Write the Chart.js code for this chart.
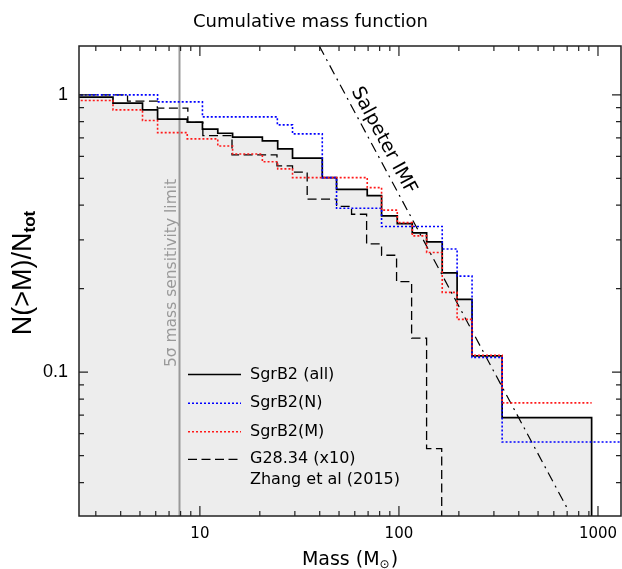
<!DOCTYPE html>
<html>
<head>
<meta charset="utf-8">
<script src="https://cdn.jsdelivr.net/npm/chart.js@4.4.1/dist/chart.umd.min.js"></script>
<style>
  html, body { margin: 0; padding: 0; background: #fff; }
</style>
</head>
<body>
<canvas id="cmf" width="622" height="569"></canvas>
<script>
// axis ranges: mass in Msun, cumulative fraction N(>M)/Ntot
const massRange = [2.47, 1305];
const fracRange = [0.0303, 1.5];
const xMajor = [10, 100, 1000];
const xMinor = [3, 4, 5, 6, 7, 8, 9, 20, 30, 40, 50, 60, 70, 80, 90, 200, 300, 400, 500, 600, 700, 800, 900];
const yMajor = [0.1, 1];
const yMinor = [0.04, 0.05, 0.06, 0.07, 0.08, 0.09, 0.2, 0.3, 0.4, 0.5, 0.6, 0.7, 0.8, 0.9];

// each point starts a new step (level holds until the next mass)
const allMass = [2, 3.66, 5.15, 6.13, 8.64, 10.3, 12.3, 14.6, 20.6, 24.6, 29.2, 41.2, 48.6, 69.3, 81.8, 98.1, 116.7, 137.8, 165, 196, 233, 330, 929];
const allFrac = [0.981, 0.933, 0.883, 0.817, 0.797, 0.752, 0.727, 0.704, 0.682, 0.638, 0.591, 0.503, 0.456, 0.433, 0.366, 0.343, 0.318, 0.295, 0.228, 0.183, 0.1145, 0.0686, 0.01];

const nMass = [2, 6.13, 10.3, 24.5, 29.2, 41.2, 48.6, 81.8, 165, 196, 233, 330, 2000];
const nFrac = [1.0, 0.943, 0.833, 0.779, 0.723, 0.503, 0.390, 0.335, 0.278, 0.222, 0.113, 0.056, 0.056];

const mMass = [2, 3.66, 5.15, 6.13, 8.64, 12.3, 14.6, 20.6, 24.6, 29.2, 69.3, 81.8, 98.1, 116.7, 137.8, 165, 196, 233, 330, 929];
const mFrac = [0.954, 0.883, 0.808, 0.731, 0.694, 0.654, 0.612, 0.574, 0.541, 0.503, 0.463, 0.384, 0.346, 0.31, 0.270, 0.194, 0.155, 0.1151, 0.0775, 0.0775];

// G28.34, masses x10 (Zhang et al 2015)
const gMass = [2, 4.33, 6.11, 8.70, 10.35, 14.5, 24.4, 29.2, 34.6, 48.6, 57.8, 68.8, 81.8, 97.3, 115.8, 137.7, 164];
const gFrac = [1.0, 0.949, 0.895, 0.796, 0.713, 0.607, 0.554, 0.526, 0.421, 0.396, 0.371, 0.290, 0.264, 0.212, 0.1327, 0.053, 0.01];

// Salpeter IMF line, end points
const salpMass = [39.8, 709];
const salpFrac = [1.5, 0.0318];

// 5 sigma mass sensitivity limit
const limitMass = 7.9;

const legendLabels = ['SgrB2 (all)', 'SgrB2(N)', 'SgrB2(M)', 'G28.34 (x10)'];

const pts = (m, f) => m.map((v, i) => ({ x: v, y: f[i] }));
const hershey = 'DejaVu Sans';

const decor = {
  id: 'decor',
  afterDatasetsDraw(chart) {
    const { ctx, chartArea: a } = chart;
    const xs = chart.scales.x, ys = chart.scales.y;
    ctx.save();
    // frame
    ctx.strokeStyle = '#222';
    ctx.lineWidth = 1.5;
    ctx.strokeRect(a.left, a.top, a.right - a.left, a.bottom - a.top);
    // inward ticks on all four sides
    ctx.lineWidth = 1.2;
    ctx.beginPath();
    const xt = (vals, len) => vals.forEach(v => {
      const px = xs.getPixelForValue(v);
      ctx.moveTo(px, a.bottom); ctx.lineTo(px, a.bottom - len);
      ctx.moveTo(px, a.top); ctx.lineTo(px, a.top + len);
    });
    const yt = (vals, len) => vals.forEach(v => {
      const py = ys.getPixelForValue(v);
      ctx.moveTo(a.left, py); ctx.lineTo(a.left + len, py);
      ctx.moveTo(a.right, py); ctx.lineTo(a.right - len, py);
    });
    xt(xMajor, 10); xt(xMinor, 5);
    yt(yMajor, 9); yt(yMinor, 5);
    ctx.stroke();

    // sensitivity limit label
    const lx = xs.getPixelForValue(limitMass);
    ctx.save();
    ctx.translate(lx - 8, (a.top + a.bottom) / 2 - 8);
    ctx.rotate(-Math.PI / 2);
    ctx.fillStyle = '#999';
    ctx.font = '15.5px ' + hershey;
    ctx.textAlign = 'center';
    ctx.textBaseline = 'middle';
    ctx.fillText('5\u03c3 mass sensitivity limit', 0, 0);
    ctx.restore();

    // Salpeter label along the line
    const p0 = { x: xs.getPixelForValue(salpMass[0]), y: ys.getPixelForValue(salpFrac[0]) };
    const p1 = { x: xs.getPixelForValue(salpMass[1]), y: ys.getPixelForValue(salpFrac[1]) };
    const ang = Math.atan2(p1.y - p0.y, p1.x - p0.x);
    const t = 0.216;
    ctx.save();
    ctx.translate(p0.x + (p1.x - p0.x) * t, p0.y + (p1.y - p0.y) * t);
    ctx.rotate(ang);
    ctx.fillStyle = '#000';
    ctx.font = '19px ' + hershey;
    ctx.textAlign = 'center';
    ctx.textBaseline = 'alphabetic';
    ctx.fillText('Salpeter IMF', 0, -7);
    ctx.restore();

    // legend
    const rows = [374.5, 403.3, 431.7, 459.3];
    ctx.font = '16px ' + hershey;
    ctx.textAlign = 'left';
    ctx.textBaseline = 'middle';
    legendLabels.forEach((lab, i) => {
      const ds = chart.data.datasets[i];
      ctx.save();
      ctx.strokeStyle = ds.borderColor;
      ctx.lineWidth = ds.borderWidth;
      ctx.setLineDash(ds.borderDash || []);
      ctx.beginPath();
      ctx.moveTo(188, rows[i]); ctx.lineTo(241, rows[i]);
      ctx.stroke();
      ctx.restore();
      ctx.fillStyle = '#000';
      ctx.fillText(lab, 250, rows[i]);
    });
    ctx.fillText('Zhang et al (2015)', 250, 480);

    // axis titles with subscripts
    ctx.fillStyle = '#000';
    ctx.font = '19px ' + hershey;
    const m1 = 'Mass (M', m2 = '\u2299', m3 = ')';
    const w1 = ctx.measureText(m1).width, w3 = ctx.measureText(m3).width;
    ctx.font = '12px ' + hershey;
    const w2 = ctx.measureText(m2).width + 1;
    const x0 = 350 - (w1 + w2 + w3) / 2;
    ctx.textBaseline = 'alphabetic';
    ctx.font = '19px ' + hershey;
    ctx.fillText(m1, x0, 565);
    ctx.font = '12px ' + hershey;
    ctx.fillText(m2, x0 + w1, 568);
    ctx.font = '19px ' + hershey;
    ctx.fillText(m3, x0 + w1 + w2, 565);

    ctx.save();
    ctx.translate(31, 273);
    ctx.rotate(-Math.PI / 2);
    ctx.font = '27px "Liberation Sans"';
    const y1 = 'N(>M)/N', y2 = 'tot';
    const wy1 = ctx.measureText(y1).width;
    ctx.font = 'bold 17px "Liberation Sans"';
    const wy2 = ctx.measureText(y2).width;
    const sx = -(wy1 + wy2) / 2;
    ctx.font = '27px "Liberation Sans"';
    ctx.fillText(y1, sx, 0);
    ctx.font = 'bold 17px "Liberation Sans"';
    ctx.fillText(y2, sx + wy1, 4);
    ctx.restore();
    ctx.restore();
  }
};

new Chart(document.getElementById('cmf'), {
  type: 'line',
  data: {
    datasets: [
      { label: 'SgrB2 (all)', data: pts(allMass, allFrac), stepped: 'before', borderColor: '#000', borderWidth: 1.7,
        fill: 'start', backgroundColor: '#ededed', pointRadius: 0, order: 5 },
      { label: 'SgrB2(N)', data: pts(nMass, nFrac), stepped: 'before', borderColor: '#0000ff', borderWidth: 1.6,
        borderDash: [2, 2], fill: false, pointRadius: 0, order: 2 },
      { label: 'SgrB2(M)', data: pts(mMass, mFrac), stepped: 'before', borderColor: '#ff1a1a', borderWidth: 1.6,
        borderDash: [2, 2], fill: false, pointRadius: 0, order: 1 },
      { label: 'G28.34 (x10)', data: pts(gMass, gFrac), stepped: 'before', borderColor: '#000', borderWidth: 1.3,
        borderDash: [9, 4.5], fill: false, pointRadius: 0, order: 3 },
      { label: 'Salpeter IMF', data: pts(salpMass, salpFrac), borderColor: '#000', borderWidth: 1.2,
        borderDash: [10, 5, 2, 5], fill: false, pointRadius: 0, order: 4 },
      { label: 'limit', data: [{ x: limitMass, y: 0.01 }, { x: limitMass, y: 10 }], borderColor: '#999', borderWidth: 2,
        fill: false, pointRadius: 0, order: 9 }
    ]
  },
  options: {
    responsive: false,
    animation: false,
    devicePixelRatio: 1,
    layout: { padding: { left: 0, right: 1, top: 0, bottom: 0 } },
    plugins: {
      legend: { display: false },
      tooltip: { enabled: false },
      filler: { drawTime: 'beforeDatasetsDraw' },
      title: {
        display: true, text: 'Cumulative mass function', color: '#000',
        font: { family: hershey, size: 18, weight: 'normal' },
        padding: { top: 12, bottom: 12.4 }
      }
    },
    scales: {
      x: {
        type: 'logarithmic', min: massRange[0], max: massRange[1],
        grid: { display: false, drawTicks: false }, border: { display: false },
        afterBuildTicks: s => { s.ticks = xMajor.map(v => ({ value: v })); },
        afterFit: s => { s.height = 53; s.paddingLeft = 0; s.paddingRight = 0; },
        ticks: { autoSkip: false, maxRotation: 0, padding: 9, color: '#000',
          font: { family: hershey, size: 15 }, callback: v => String(v) }
      },
      y: {
        type: 'logarithmic', min: fracRange[0], max: fracRange[1],
        grid: { display: false, drawTicks: false }, border: { display: false },
        afterBuildTicks: s => { s.ticks = yMajor.map(v => ({ value: v })); },
        afterFit: s => { s.width = 79; s.paddingTop = 0; s.paddingBottom = 0; },
        ticks: { autoSkip: false, padding: 11, color: '#000',
          font: { family: 'Liberation Sans', size: 18 }, callback: v => String(v) }
      }
    }
  },
  plugins: [decor]
});
</script>
</body>
</html>
